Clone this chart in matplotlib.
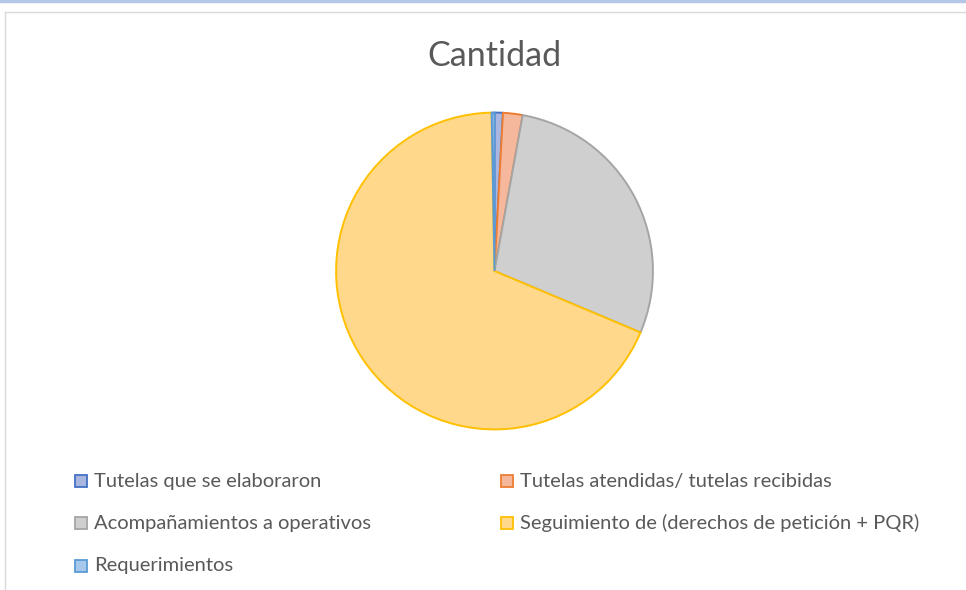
import matplotlib.pyplot as plt
from matplotlib.patches import Rectangle
from matplotlib.lines import Line2D

categorias = [
    "Tutelas que se elaboraron",
    "Tutelas atendidas/ tutelas recibidas",
    "Acompañamientos a operativos",
    "Seguimiento de (derechos de petición + PQR)",
    "Requerimientos",
]
cantidad = [3, 7, 100, 240, 1]

relleno = ["#a9b6e0", "#f6b89c", "#cfcfcf", "#ffd88c", "#a8c8eb"]
borde = ["#4472c4", "#ed7d31", "#a5a5a5", "#ffc000", "#5b9bd5"]

W, H = 966, 590
fig = plt.figure(figsize=(W / 100, H / 100), dpi=100)
fig.patch.set_facecolor("white")

def fx(x):
    return x / W

def fy(y):
    return 1 - y / H

# top strip and chart border
fig.add_artist(Line2D([0, 1], [fy(1), fy(1)], color="#b4c7e7", lw=2.5))
fig.add_artist(Line2D([fx(5), 1], [fy(12), fy(12)], color="#d9d9d9", lw=1))
fig.add_artist(Line2D([fx(5), fx(5)], [fy(12), 0], color="#d9d9d9", lw=1))

# pie
cx, cy, r = 494.5, 271, 160
ax = fig.add_axes([fx(cx - r), fy(cy + r), 2 * r / W, 2 * r / H])
wedges, _ = ax.pie(cantidad, colors=relleno, startangle=90, counterclock=False,
                   wedgeprops=dict(linewidth=1.4))
for w, c in zip(wedges, borde):
    w.set_edgecolor(c)
ax.set_xlim(-1.01, 1.01)
ax.set_ylim(-1.01, 1.01)
ax.set_aspect("auto")
ax.axis("off")

fig.text(fx(cx), fy(56), "Cantidad", ha="center", va="center",
         fontsize=24.5, color="#595959", family="Lato")

# legend
posiciones = [(75, 481), (501, 481), (75, 523), (501, 523), (75, 566)]
for (x, y), lab, f, b in zip(posiciones, categorias, relleno, borde):
    fig.add_artist(Rectangle((fx(x), fy(y + 6)), 12 / W, 12 / H,
                             facecolor=f, edgecolor=b, lw=1.3))
    fig.text(fx(x + 19), fy(y), lab, ha="left", va="center",
             fontsize=14.5, color="#595959", family="Lato")

fig.savefig("out.png", dpi=100)
